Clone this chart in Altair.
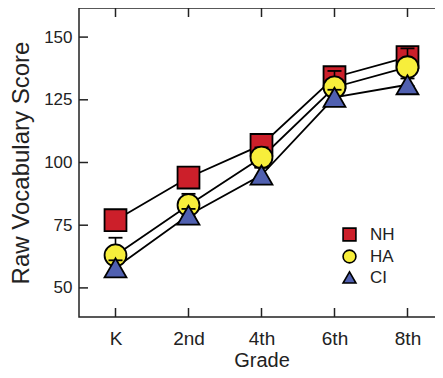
import altair as alt
import pandas as pd

grades = ["K", "2nd", "4th", "6th", "8th"]
groups = ["NH", "HA", "CI"]
nh = [77, 94, 107, 134, 142]
ha = [63, 83, 102, 130, 138]
ci = [58, 79, 95, 126, 131]
nh_err = [2, 2, 2, 2, 2]
ha_err = [7, 4.5, 4, 6.5, 7.5]
ci_err = [3, 2.5, 3, 3, 2.5]
y_ticks = [50, 75, 100, 125, 150]
colors = ["#CC1F2A", "#F7EE3B", "#5060B0"]
shapes = ["square", "circle", "triangle-up"]

rows = []
for g, vals, errs in zip(groups, [nh, ha, ci], [nh_err, ha_err, ci_err]):
    for i, (gr, v, e) in enumerate(zip(grades, vals, errs)):
        rows.append({"grade": gr, "idx": i, "group": g, "score": v,
                     "lo": v - e, "hi": v + e})
df = pd.DataFrame(rows)
ytick_df = pd.DataFrame({"v": y_ticks})
xtick_df = pd.DataFrame({"grade": grades})

W, H = 365, 309
FONT = "Liberation Sans"
INK = "#222222"

x_enc = alt.X("grade:N",
              scale=alt.Scale(type="point", padding=0.5, domain=grades),
              axis=alt.Axis(title="Grade", labelAngle=0, domain=False, ticks=False,
                            labelFontSize=19, titleFontSize=20,
                            labelPadding=12, titlePadding=2))
y_scale = alt.Scale(domain=[38.4, 161.6], nice=False, zero=False)


def y_enc(field):
    return alt.Y(f"{field}:Q", scale=y_scale,
                 axis=alt.Axis(title="Raw Vocabulary Score", values=y_ticks,
                               domain=False, ticks=False, grid=False,
                               labelFontSize=17, titleFontSize=24,
                               labelPadding=7, titlePadding=10))


legend = alt.Legend(title=None, orient="none", legendX=262, legendY=218,
                    symbolSize=165, symbolStrokeColor="black", symbolStrokeWidth=1.6,
                    labelFontSize=17, labelFont=FONT, labelColor=INK,
                    labelOffset=12, rowPadding=1, padding=0)
color_enc = alt.Color("group:N", scale=alt.Scale(domain=groups, range=colors), legend=legend)
shape_enc = alt.Shape("group:N", scale=alt.Scale(domain=groups, range=shapes), legend=legend)

base = alt.Chart(df)

lines = base.mark_line(color="black", strokeWidth=1.8).encode(
    x=x_enc, y=y_enc("score"), detail="group:N", order="idx:Q")

layers = [lines]
for g in groups:
    sub = base.transform_filter(alt.datum.group == g)
    bar = sub.mark_rule(color="black", strokeWidth=1.6).encode(
        x=x_enc, y=y_enc("lo"), y2="hi:Q")
    cap_lo = sub.mark_tick(orient="horizontal", size=14, thickness=1.8,
                           color="black", opacity=1).encode(x=x_enc, y=y_enc("lo"))
    cap_hi = sub.mark_tick(orient="horizontal", size=14, thickness=1.8,
                           color="black", opacity=1).encode(x=x_enc, y=y_enc("hi"))
    pts = sub.mark_point(filled=True, size=480, stroke="black", strokeWidth=1.8,
                         opacity=1).encode(x=x_enc, y=y_enc("score"),
                                           color=color_enc, shape=shape_enc)
    layers += [bar, cap_lo, cap_hi, pts]

TL = 9
yt = alt.Chart(ytick_df)
xt = alt.Chart(xtick_df)
tick_left = yt.mark_rule(color=INK, strokeWidth=1.5).encode(
    y=y_enc("v"), x=alt.value(0), x2=alt.value(TL))
tick_right = yt.mark_rule(color=INK, strokeWidth=1.5).encode(
    y=y_enc("v"), x=alt.value(W), x2=alt.value(W - TL))
tick_top = xt.mark_rule(color=INK, strokeWidth=1.5).encode(
    x=x_enc, y=alt.value(0), y2=alt.value(TL))
tick_bottom = xt.mark_rule(color=INK, strokeWidth=1.5).encode(
    x=x_enc, y=alt.value(H), y2=alt.value(H - TL))
layers += [tick_left, tick_right, tick_top, tick_bottom]

chart = alt.layer(*layers).properties(
    width=W, height=H,
    autosize=alt.AutoSizeParams(type="none"),
    padding={"left": 71, "top": 0, "right": -9, "bottom": 53},
    background="white",
).configure_view(
    stroke=INK, strokeWidth=1.5
).configure_axis(
    labelFont=FONT, titleFont=FONT,
    labelColor=INK, titleColor=INK, titleFontWeight="normal"
)

chart.save("out.html", embed_options={"renderer": "svg", "actions": False})
